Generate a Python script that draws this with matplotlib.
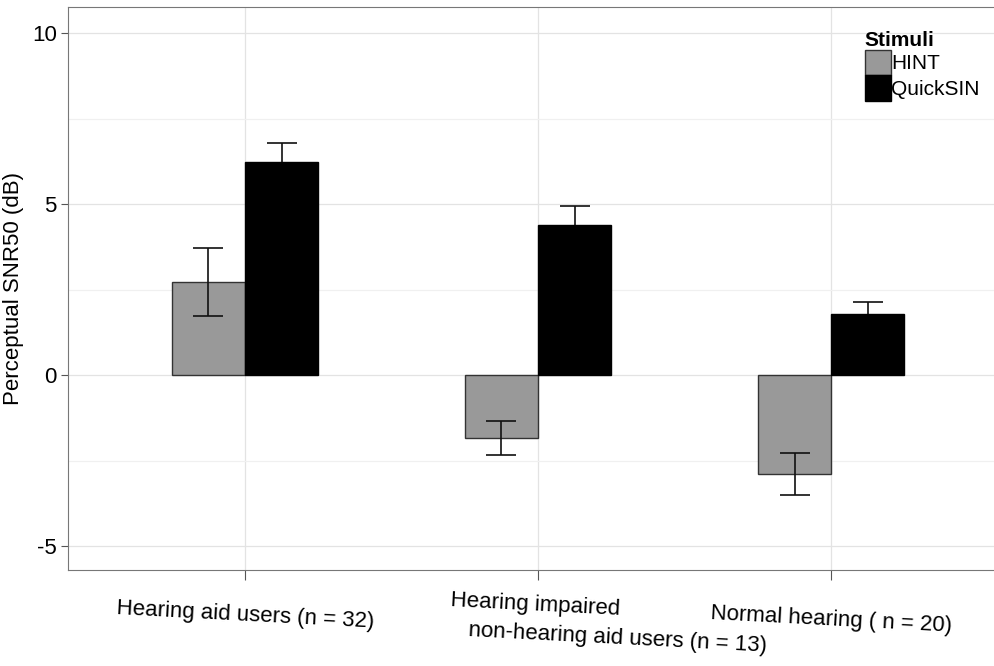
import matplotlib.pyplot as plt
import numpy as np
from matplotlib.patches import Patch

plt.rcParams['font.family'] = ['Liberation Sans', 'DejaVu Sans']

groups = ["Hearing aid users (n = 32)",
          "Hearing impaired\nnon-hearing aid users (n = 13)",
          "Normal hearing ( n = 20)"]
hint = [2.72, -1.84, -2.89]
hint_err = [1.0, 0.5, 0.62]
quick = [6.23, 4.39, 1.78]
quick_err = [0.55, 0.55, 0.35]

fig = plt.figure(figsize=(9.95, 6.66), dpi=100)
ax = fig.add_axes([0.0683, 0.144, 0.932, 0.845])

x = np.arange(len(groups))
w = 0.25
ax.bar(x - w / 2, hint, w, color='#999999', edgecolor='#333333', linewidth=1, zorder=3)
ax.bar(x + w / 2, quick, w, color='black', edgecolor='black', linewidth=1, zorder=3)
ax.errorbar(x - w / 2, hint, yerr=hint_err, fmt='none', ecolor='#111111',
            elinewidth=1.2, capsize=10.5, capthick=1.2, zorder=4)
ax.errorbar(x + w / 2, quick, yerr=quick_err, fmt='none', ecolor='#111111',
            elinewidth=1.2, capsize=10.5, capthick=1.2, zorder=2)

ax.set_xlim(-0.604, 2.56)
ax.set_ylim(-5.7, 10.76)
ax.set_yticks([-5, 0, 5, 10])
ax.set_yticklabels(['-5', '0', '5', '10'], fontsize=16)
ax.set_yticks([-2.5, 2.5, 7.5], minor=True)
ax.set_xticks(x)
ax.set_xticklabels([])
ax.tick_params(axis='x', length=7, color='#555555')
ax.tick_params(axis='y', length=5, color='#555555', pad=3)
ax.tick_params(axis='y', which='minor', length=0)
ax.grid(True, which='major', color='#e3e3e3', linewidth=0.9, zorder=0)
ax.grid(True, which='minor', axis='y', color='#f0f0f0', linewidth=0.9, zorder=0)
ax.set_axisbelow(True)
for s in ax.spines.values():
    s.set_color('#777777')

ax.set_ylabel('Perceptual SNR50 (dB)', fontsize=16, labelpad=6)

# tilted category labels (second one is split over two offset lines)
parts = groups[1].split('\n')
labels = [(0.0, -0.080, groups[0]),
          (0.99, -0.062, parts[0]),
          (1.273, -0.121, parts[1]),
          (2.0, -0.089, groups[2])]
for xp, yp, txt in labels:
    ax.text(xp, yp, txt, transform=ax.get_xaxis_transform(), ha='center', va='center',
            fontsize=16, rotation=-3, rotation_mode='anchor')

handles = [Patch(facecolor='#999999', edgecolor='#333333', label='HINT'),
           Patch(facecolor='black', edgecolor='black', label='QuickSIN')]
leg = ax.legend(handles=handles, title='Stimuli', loc='upper left',
                bbox_to_anchor=(0.857, 0.962), frameon=False, fontsize=15,
                title_fontproperties={'weight': 'bold', 'size': 15},
                handlelength=1.25, handleheight=1.5, handletextpad=0.0,
                labelspacing=0.0, borderpad=0.1, borderaxespad=0.0)
leg._legend_box.align = 'left'

fig.savefig('out.png', dpi=100)
